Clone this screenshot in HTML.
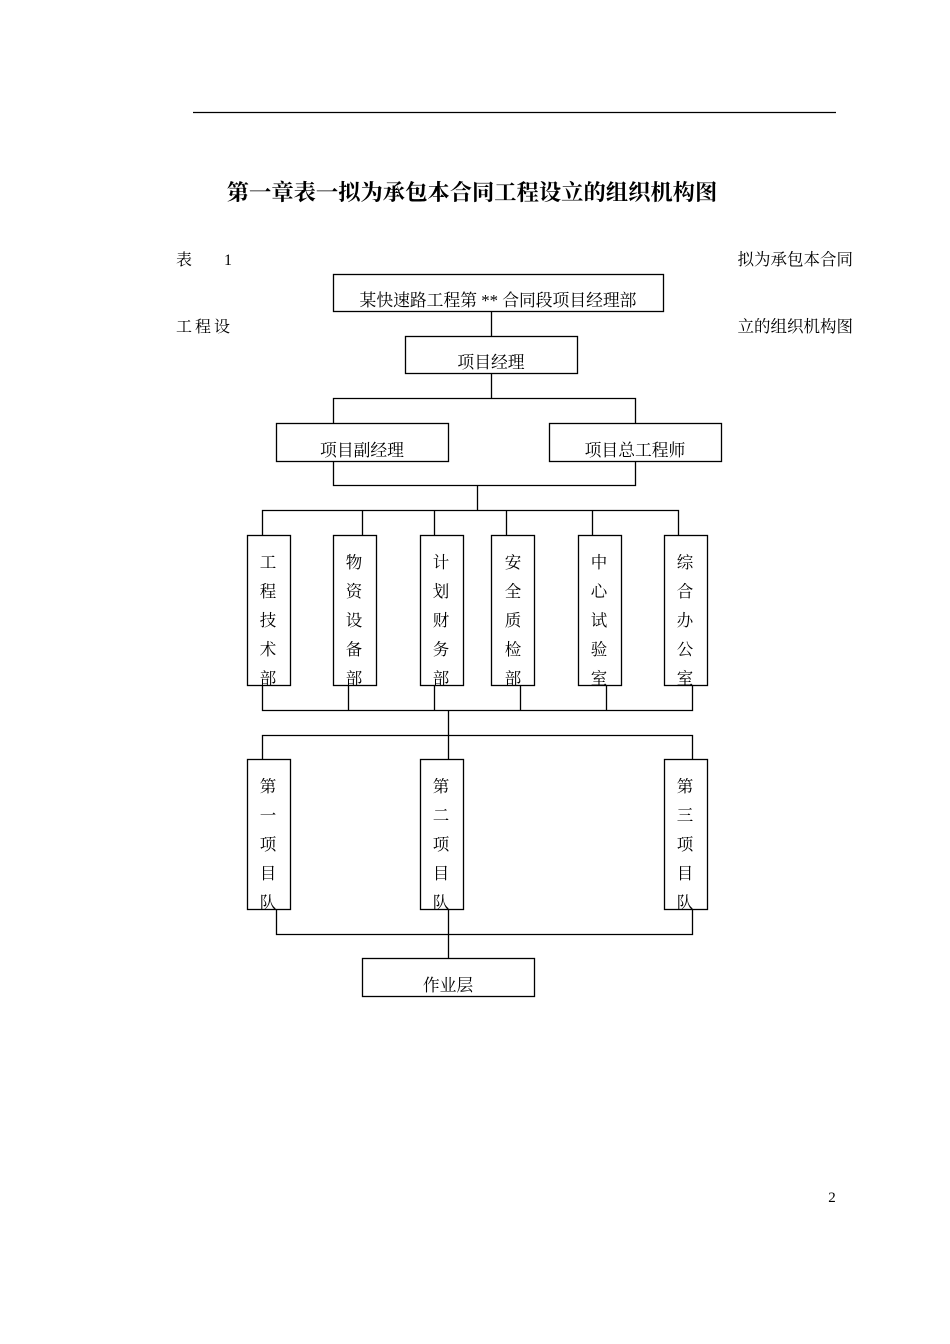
<!DOCTYPE html>
<html><head><meta charset="utf-8"><style>
html,body{margin:0;padding:0;background:#fff;}
svg{display:block;}
text{font-family:"Liberation Serif","Noto Serif CJK SC",serif;fill:#000;}
</style></head><body>
<svg width="950" height="1344" viewBox="0 0 950 1344" xmlns="http://www.w3.org/2000/svg">
<line x1="193" y1="112.5" x2="836" y2="112.5" stroke="#000" stroke-width="1.3"/>
<text x="472" y="200" font-size="22.3" font-weight="bold" text-anchor="middle">第一章表一拟为承包本合同工程设立的组织机构图</text>
<text x="176" y="265" font-size="16">表</text>
<text x="224" y="265" font-size="16">1</text>
<text x="853" y="265" font-size="16.5" text-anchor="end">拟为承包本合同</text>
<text x="176" y="332" font-size="16" letter-spacing="3">工程设</text>
<text x="853" y="332" font-size="16.5" text-anchor="end">立的组织机构图</text>
<g fill="none" stroke="#000" stroke-width="1.3">
<rect x="333.5" y="274.5" width="330" height="37"/>
<rect x="405.5" y="336.5" width="172" height="37"/>
<rect x="276.5" y="423.5" width="172" height="38"/>
<rect x="549.5" y="423.5" width="172" height="38"/>
<rect x="247.5" y="535.5" width="43" height="150"/>
<rect x="333.5" y="535.5" width="43" height="150"/>
<rect x="420.5" y="535.5" width="43" height="150"/>
<rect x="491.5" y="535.5" width="43" height="150"/>
<rect x="578.5" y="535.5" width="43" height="150"/>
<rect x="664.5" y="535.5" width="43" height="150"/>
<rect x="247.5" y="759.5" width="43" height="150"/>
<rect x="420.5" y="759.5" width="43" height="150"/>
<rect x="664.5" y="759.5" width="43" height="150"/>
<rect x="362.5" y="958.5" width="172" height="38"/>
<path d="M491.5 311.5V336.5 M491.5 373.5V398.5 M333.5 423.5V398.5H635.5V423.5 M333.5 461.5V485.5H635.5V461.5 M477.5 485.5V510.5 M262.5 535.5V510.5H678.5V535.5 M362.5 510.5V535.5 M434.5 510.5V535.5 M506.5 510.5V535.5 M592.5 510.5V535.5"/>
<path d="M262.5 685.5V710.5H692.5V685.5 M348.5 685.5V710.5 M434.5 685.5V710.5 M520.5 685.5V710.5 M606.5 685.5V710.5 M448.5 710.5V759.5 M262.5 759.5V735.5H692.5V759.5"/>
<path d="M276.5 909.5V934.5H692.5V909.5 M448.5 909.5V958.5"/>
</g>
<g font-size="16.8" text-anchor="middle">
<text x="498" y="306">某快速路工程第 ** 合同段项目经理部</text>
<text x="491" y="368">项目经理</text>
<text x="362" y="456">项目副经理</text>
<text x="635" y="456">项目总工程师</text>
<text x="448" y="991">作业层</text>
</g>
<g font-size="16.5" text-anchor="middle">
<text x="268" y="568">工</text><text x="268" y="597">程</text><text x="268" y="626">技</text><text x="268" y="655">术</text><text x="268" y="684">部</text>
<text x="354" y="568">物</text><text x="354" y="597">资</text><text x="354" y="626">设</text><text x="354" y="655">备</text><text x="354" y="684">部</text>
<text x="441" y="568">计</text><text x="441" y="597">划</text><text x="441" y="626">财</text><text x="441" y="655">务</text><text x="441" y="684">部</text>
<text x="513" y="568">安</text><text x="513" y="597">全</text><text x="513" y="626">质</text><text x="513" y="655">检</text><text x="513" y="684">部</text>
<text x="599" y="568">中</text><text x="599" y="597">心</text><text x="599" y="626">试</text><text x="599" y="655">验</text><text x="599" y="684">室</text>
<text x="685" y="568">综</text><text x="685" y="597">合</text><text x="685" y="626">办</text><text x="685" y="655">公</text><text x="685" y="684">室</text>
<text x="268" y="792">第</text><text x="268" y="821">一</text><text x="268" y="850">项</text><text x="268" y="879">目</text><text x="268" y="908">队</text>
<text x="441" y="792">第</text><text x="441" y="821">二</text><text x="441" y="850">项</text><text x="441" y="879">目</text><text x="441" y="908">队</text>
<text x="685" y="792">第</text><text x="685" y="821">三</text><text x="685" y="850">项</text><text x="685" y="879">目</text><text x="685" y="908">队</text>
</g>
<text x="832" y="1202" font-size="15" text-anchor="middle">2</text>
</svg>
</body></html>
